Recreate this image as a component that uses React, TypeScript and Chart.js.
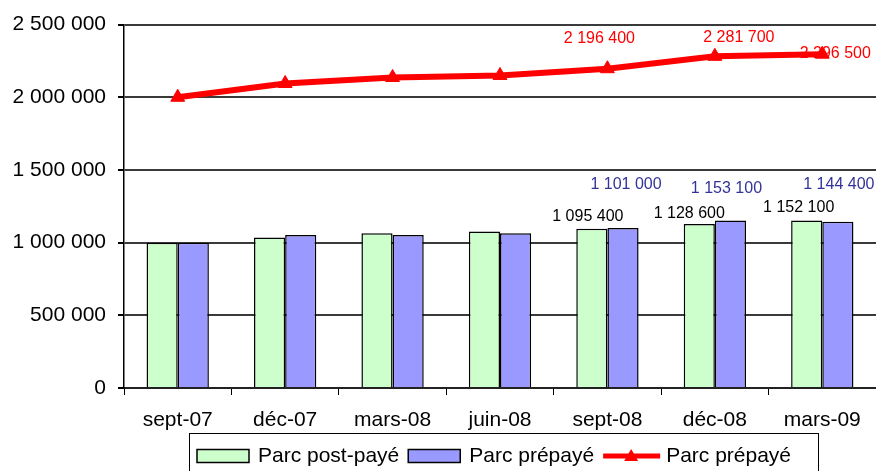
import React, { useEffect, useRef } from "react";
import { Chart, registerables } from "chart.js";

Chart.register(...registerables);

const categories = ["sept-07", "déc-07", "mars-08", "juin-08", "sept-08", "déc-08", "mars-09"];
const postPaye = [1000000, 1035000, 1065000, 1076000, 1095400, 1128600, 1152100];
const prepaye = [1000000, 1053000, 1053000, 1065000, 1101000, 1153100, 1144400];
const prepayeLine = [2000000, 2095000, 2136000, 2150000, 2196400, 2281700, 2296500];
const labelledIndices = [4, 5, 6];
const seriesNames = ["Parc post-payé", "Parc prépayé", "Parc prépayé"];

const FONT = "'Liberation Sans', Arial, sans-serif";

const fmt = (n: number) => Math.round(n).toString().replace(/\B(?=(\d{3})+(?!\d))/g, " ");

// label offsets (dx, dy) per dataset for labelled indices
const labelOffsets: number[][][] = [
  [[-4, -12], [-10, -10], [-8, -13]],
  [[3, -43], [-4, -32], [1, -37]],
  [[-8, -30], [24, -19], [13, -1]],
];
const labelColors = ["#000000", "#333399", "#FF0000"];

const labelPlugin = {
  id: "valueLabels",
  afterDatasetsDraw(chart: any) {
    const ctx = chart.ctx;
    ctx.save();
    ctx.font = `16px ${FONT}`;
    ctx.textAlign = "center";
    ctx.textBaseline = "middle";
    chart.data.datasets.forEach((ds: any, di: number) => {
      const meta = chart.getDatasetMeta(di);
      labelledIndices.forEach((idx, k) => {
        const el = meta.data[idx];
        if (!el) return;
        const [dx, dy] = labelOffsets[di][k];
        ctx.fillStyle = labelColors[di];
        ctx.fillText(fmt(ds.data[idx]), el.x + dx, el.y + dy);
      });
    });
    ctx.restore();
  },
};

const legendPlugin = {
  id: "customLegend",
  afterDraw(chart: any) {
    const ctx = chart.ctx;
    const dss = chart.data.datasets;
    ctx.save();
    ctx.font = `21px ${FONT}`;
    ctx.textBaseline = "middle";
    ctx.textAlign = "left";
    const cy = 456;
    ctx.strokeStyle = "#000";
    ctx.lineWidth = 1;
    ctx.strokeRect(189.5, 433.5, 629, 60);
    let x = 197;
    dss.forEach((ds: any, i: number) => {
      if (ds.type === "line") {
        ctx.strokeStyle = ds.borderColor;
        ctx.lineWidth = 5;
        ctx.beginPath();
        ctx.moveTo(x, cy);
        ctx.lineTo(x + 57, cy);
        ctx.stroke();
        ctx.fillStyle = ds.borderColor;
        const r = 7;
        const tx = x + 28;
        ctx.beginPath();
        ctx.moveTo(tx, cy - r);
        ctx.lineTo(tx + r, cy + r * 0.7);
        ctx.lineTo(tx - r, cy + r * 0.7);
        ctx.closePath();
        ctx.fill();
        x += 63;
      } else {
        ctx.fillStyle = ds.backgroundColor;
        ctx.fillRect(x, cy - 6.5, 52, 13);
        ctx.strokeStyle = "#000";
        ctx.lineWidth = 1.5;
        ctx.strokeRect(x, cy - 6.5, 52, 13);
        x += 61;
      }
      ctx.fillStyle = "#000";
      ctx.fillText(ds.label, x, cy);
      x += ctx.measureText(ds.label).width + 9;
    });
    ctx.restore();
  },
};

export default function App() {
  const ref = useRef<HTMLCanvasElement>(null);
  useEffect(() => {
    document.body.style.margin = "0";
    Chart.defaults.font.family = FONT;
    Chart.defaults.color = "#000";
    const chart = new Chart(ref.current as HTMLCanvasElement, {
      type: "bar",
      data: {
        labels: categories,
        datasets: [
          {
            type: "bar",
            label: seriesNames[0],
            data: postPaye,
            backgroundColor: "#CCFFCC",
            borderColor: "#000",
            borderWidth: 1.5,
            categoryPercentage: 0.58,
            barPercentage: 1,
            order: 2,
          } as any,
          {
            type: "bar",
            label: seriesNames[1],
            data: prepaye,
            backgroundColor: "#9999FF",
            borderColor: "#000",
            borderWidth: 1.5,
            categoryPercentage: 0.58,
            barPercentage: 1,
            order: 2,
          } as any,
          {
            type: "line",
            label: seriesNames[2],
            data: prepayeLine,
            borderColor: "#FF0000",
            backgroundColor: "#FF0000",
            borderWidth: 6,
            pointStyle: "triangle",
            pointRadius: 8,
            pointBorderWidth: 1,
            tension: 0,
            clip: false,
            order: 1,
          } as any,
        ],
      },
      options: {
        animation: false,
        responsive: false,
        maintainAspectRatio: false,
        layout: { autoPadding: false, padding: { top: 24, left: 0, right: 0, bottom: 0 } },
        plugins: {
          legend: { display: false },
          tooltip: { enabled: false },
        },
        scales: {
          x: {
            offset: true,
            grid: {
              display: true,
              drawOnChartArea: false,
              offset: true,
              tickLength: 7,
              tickColor: "#000",
              lineWidth: 1,
            },
            border: { color: "#222", width: 2 },
            ticks: { font: { size: 21 }, padding: 13, color: "#000", maxRotation: 0 },
            afterFit(scale: any) {
              scale.height = 83;
              scale.paddingLeft = 0;
              scale.paddingRight = 0;
            },
          },
          y: {
            min: 0,
            max: 2500000,
            ticks: {
              stepSize: 500000,
              font: { size: 21 },
              padding: 12,
              color: "#000",
              callback: (v: any) => fmt(Number(v)),
            },
            grid: {
              color: "#3a3a3a",
              lineWidth: 2,
              tickLength: 6,
              tickColor: "#000",
            },
            border: { color: "#000", width: 1.5 },
            afterFit(scale: any) {
              scale.width = 124;
            },
          },
        },
      },
      plugins: [labelPlugin, legendPlugin],
    });
    return () => chart.destroy();
  }, []);
  return (
    <div style={{ position: "fixed", left: 0, top: 0, width: 876, height: 471 }}>
      <canvas ref={ref} width={876} height={471} style={{ width: 876, height: 471 }} />
    </div>
  );
}
